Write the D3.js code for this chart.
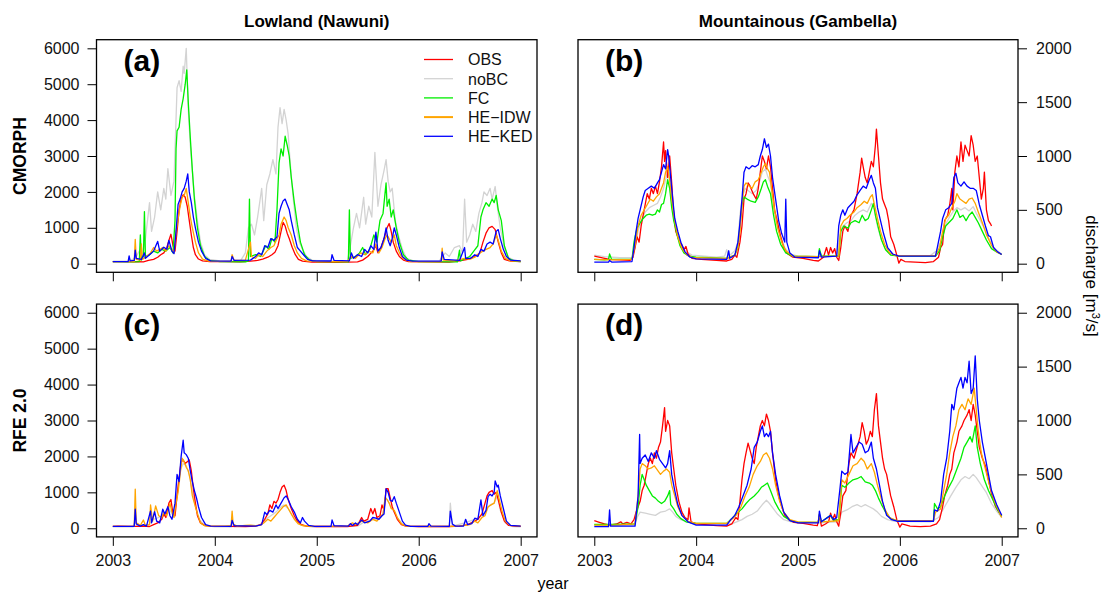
<!DOCTYPE html>
<html>
<head>
<meta charset="utf-8">
<script src="https://cdn.jsdelivr.net/npm/d3@7"></script>
<style>
  body { margin: 0; background: #fff; }
  text { font-family: "Liberation Sans", Arial, sans-serif; }
</style>
</head>
<body>
<svg id="chart" width="1107" height="594"></svg>
<script>
// tick labels
const years = [2003, 2004, 2005, 2006, 2007];
const lowTicks = [0, 1000, 2000, 3000, 4000, 5000, 6000];
const mountTicks = [0, 500, 1000, 1500, 2000];
const seriesNames = ['OBS', 'noBC', 'FC', 'HE\u2212IDW', 'HE\u2212KED'];
const colTitles = ['Lowland (Nawuni)', 'Mountainous (Gambella)'];
const rowTitles = ['CMORPH', 'RFE 2.0'];

// (a) CMORPH lowland  [year, discharge]
const aOBS = [[2003.00,60],[2003.10,55],[2003.20,50],[2003.25,60],[2003.30,50],[2003.35,90],[2003.40,120],[2003.44,180],[2003.47,250],[2003.50,300],[2003.53,450],[2003.55,650],[2003.57,820],[2003.59,500],[2003.61,350],[2003.63,900],[2003.65,1500],[2003.67,1800],[2003.69,1920],[2003.71,1850],[2003.73,1600],[2003.75,1200],[2003.77,800],[2003.79,450],[2003.81,250],[2003.84,130],[2003.88,80],[2003.95,60],[2004.10,55],[2004.25,50],[2004.35,70],[2004.42,90],[2004.47,130],[2004.52,180],[2004.56,250],[2004.59,320],[2004.62,500],[2004.65,900],[2004.67,1150],[2004.69,1050],[2004.71,850],[2004.73,700],[2004.76,450],[2004.79,250],[2004.82,120],[2004.86,70],[2004.95,45],[2005.20,40],[2005.40,50],[2005.45,100],[2005.50,200],[2005.55,350],[2005.58,500],[2005.60,300],[2005.63,450],[2005.66,700],[2005.69,1000],[2005.71,1120],[2005.73,900],[2005.75,600],[2005.78,350],[2005.81,200],[2005.85,100],[2005.90,60],[2006.10,50],[2006.30,45],[2006.40,80],[2006.48,120],[2006.55,200],[2006.60,300],[2006.63,600],[2006.66,850],[2006.69,1000],[2006.72,1040],[2006.75,950],[2006.78,600],[2006.81,300],[2006.84,120],[2006.90,70],[2007.00,60]];
const aNoBC = [[2003.00,70],[2003.15,70],[2003.22,150],[2003.26,350],[2003.29,250],[2003.32,700],[2003.36,1700],[2003.38,900],[2003.41,1300],[2003.44,2000],[2003.47,1500],[2003.50,2100],[2003.52,1800],[2003.54,2650],[2003.57,1900],[2003.60,2300],[2003.63,4900],[2003.65,5100],[2003.67,4800],[2003.69,5500],[2003.70,5300],[2003.72,6000],[2003.74,4300],[2003.76,3300],[2003.78,2600],[2003.80,1900],[2003.83,1200],[2003.86,600],[2003.90,250],[2003.95,120],[2004.05,80],[2004.25,70],[2004.30,300],[2004.33,1000],[2004.36,1100],[2004.39,800],[2004.42,1300],[2004.46,2100],[2004.48,1200],[2004.51,2200],[2004.54,2500],[2004.57,2900],[2004.60,2500],[2004.62,3800],[2004.64,4350],[2004.66,3900],[2004.68,4300],[2004.70,4000],[2004.72,3600],[2004.74,2800],[2004.77,1800],[2004.80,1000],[2004.83,600],[2004.86,400],[2004.90,200],[2004.96,90],[2005.20,70],[2005.30,70],[2005.33,500],[2005.36,1000],[2005.39,1400],[2005.42,1000],[2005.46,1850],[2005.48,1100],[2005.51,1600],[2005.54,1300],[2005.57,3100],[2005.60,1600],[2005.63,2200],[2005.66,2600],[2005.68,2900],[2005.70,2300],[2005.72,2000],[2005.74,2100],[2005.77,1200],[2005.80,800],[2005.84,400],[2005.88,150],[2005.95,80],[2006.20,70],[2006.26,300],[2006.30,200],[2006.35,450],[2006.40,500],[2006.43,300],[2006.45,1800],[2006.47,600],[2006.50,800],[2006.53,1100],[2006.56,900],[2006.59,1400],[2006.62,1700],[2006.64,2000],[2006.67,1900],[2006.70,2100],[2006.72,1800],[2006.75,2150],[2006.77,1600],[2006.80,1000],[2006.84,450],[2006.88,180],[2006.94,90],[2007.00,80]];
const aFC = [[2003.00,55],[2003.20,50],[2003.26,60],[2003.27,800],[2003.28,100],[2003.30,200],[2003.31,1450],[2003.32,200],[2003.36,250],[2003.40,350],[2003.44,300],[2003.48,400],[2003.52,350],[2003.56,450],[2003.59,300],[2003.61,1200],[2003.62,3200],[2003.63,3700],[2003.65,3800],[2003.67,4300],[2003.69,4600],[2003.71,5000],[2003.725,5400],[2003.74,4500],[2003.76,3500],[2003.78,2600],[2003.80,1800],[2003.83,1000],[2003.86,500],[2003.90,200],[2003.95,90],[2004.05,60],[2004.30,50],[2004.33,80],[2004.34,1800],[2004.35,200],[2004.40,250],[2004.45,200],[2004.50,500],[2004.53,400],[2004.56,700],[2004.59,600],[2004.61,1500],[2004.63,2800],[2004.65,3200],[2004.67,3000],[2004.69,3550],[2004.71,3300],[2004.73,3000],[2004.75,2400],[2004.78,1700],[2004.81,1100],[2004.84,600],[2004.88,250],[2004.93,100],[2005.00,60],[2005.31,50],[2005.32,1500],[2005.33,150],[2005.38,200],[2005.42,300],[2005.45,450],[2005.48,250],[2005.52,400],[2005.56,800],[2005.59,600],[2005.62,1200],[2005.65,1400],[2005.68,2250],[2005.69,1600],[2005.71,1800],[2005.73,1300],[2005.75,1500],[2005.78,1000],[2005.81,600],[2005.85,250],[2005.90,100],[2006.00,60],[2006.38,50],[2006.40,380],[2006.41,80],[2006.46,150],[2006.50,200],[2006.54,350],[2006.58,500],[2006.61,1300],[2006.63,1500],[2006.66,1700],[2006.69,1600],[2006.72,1800],[2006.74,1700],[2006.76,1900],[2006.78,1500],[2006.81,1200],[2006.84,500],[2006.88,150],[2006.94,70],[2007.00,60]];
const aIDW = [[2003.00,60],[2003.21,60],[2003.22,680],[2003.23,120],[2003.27,100],[2003.28,550],[2003.29,120],[2003.33,200],[2003.37,300],[2003.40,450],[2003.43,350],[2003.46,400],[2003.49,450],[2003.52,350],[2003.55,500],[2003.58,400],[2003.60,300],[2003.62,900],[2003.64,1250],[2003.66,1600],[2003.68,1850],[2003.70,1900],[2003.72,2100],[2003.74,1700],[2003.76,1300],[2003.78,1000],[2003.81,600],[2003.84,300],[2003.88,130],[2003.94,70],[2004.10,65],[2004.16,70],[2004.17,250],[2004.19,90],[2004.30,100],[2004.35,600],[2004.36,200],[2004.40,150],[2004.43,250],[2004.47,200],[2004.51,350],[2004.55,450],[2004.58,500],[2004.61,700],[2004.63,800],[2004.65,1100],[2004.68,1300],[2004.70,1200],[2004.72,1000],[2004.75,800],[2004.78,500],[2004.81,300],[2004.85,150],[2004.90,80],[2005.00,60],[2005.30,55],[2005.34,200],[2005.38,150],[2005.43,300],[2005.47,250],[2005.51,350],[2005.55,300],[2005.58,550],[2005.61,300],[2005.64,450],[2005.67,700],[2005.69,800],[2005.71,700],[2005.73,600],[2005.76,800],[2005.78,500],[2005.82,250],[2005.86,120],[2005.92,60],[2006.22,55],[2006.23,430],[2006.24,100],[2006.35,80],[2006.45,150],[2006.50,120],[2006.55,180],[2006.60,300],[2006.63,350],[2006.66,400],[2006.70,450],[2006.73,550],[2006.76,800],[2006.78,650],[2006.81,350],[2006.85,150],[2006.90,80],[2007.00,70]];
const aKED = [[2003.00,60],[2003.15,60],[2003.16,220],[2003.17,80],[2003.21,90],[2003.22,380],[2003.23,150],[2003.28,120],[2003.31,300],[2003.32,150],[2003.36,250],[2003.40,350],[2003.44,620],[2003.46,350],[2003.50,460],[2003.53,400],[2003.55,650],[2003.58,350],[2003.60,280],[2003.62,900],[2003.64,1650],[2003.66,1800],[2003.68,2000],[2003.70,2100],[2003.72,2300],[2003.735,2500],[2003.75,2000],[2003.77,1700],[2003.79,1300],[2003.81,1000],[2003.84,600],[2003.87,350],[2003.91,150],[2003.96,80],[2004.10,70],[2004.16,75],[2004.17,200],[2004.19,90],[2004.35,100],[2004.40,200],[2004.43,300],[2004.46,250],[2004.49,500],[2004.52,450],[2004.55,700],[2004.58,650],[2004.61,750],[2004.63,1400],[2004.65,1600],[2004.67,1750],[2004.69,1800],[2004.71,1650],[2004.73,1500],[2004.75,1200],[2004.78,800],[2004.81,450],[2004.84,350],[2004.87,250],[2004.91,120],[2004.96,80],[2005.14,75],[2005.15,250],[2005.17,90],[2005.32,80],[2005.34,300],[2005.36,150],[2005.40,250],[2005.44,200],[2005.47,400],[2005.50,300],[2005.53,500],[2005.56,400],[2005.58,880],[2005.60,350],[2005.63,450],[2005.66,700],[2005.68,1000],[2005.70,650],[2005.72,500],[2005.74,700],[2005.76,1000],[2005.78,800],[2005.81,450],[2005.84,200],[2005.88,100],[2005.94,70],[2006.22,70],[2006.23,330],[2006.25,120],[2006.40,90],[2006.45,450],[2006.46,150],[2006.51,150],[2006.55,250],[2006.58,200],[2006.61,400],[2006.64,350],[2006.67,550],[2006.70,600],[2006.73,550],[2006.76,900],[2006.78,950],[2006.80,700],[2006.83,400],[2006.86,200],[2006.90,100],[2007.00,80]];

// (b) CMORPH mountainous
const bOBS = [[2003.00,70],[2003.08,55],[2003.15,40],[2003.25,35],[2003.35,30],[2003.38,60],[2003.40,150],[2003.42,250],[2003.44,200],[2003.46,350],[2003.48,450],[2003.50,550],[2003.52,650],[2003.54,600],[2003.56,700],[2003.58,650],[2003.60,720],[2003.62,650],[2003.64,760],[2003.66,900],[2003.68,1130],[2003.69,950],[2003.70,1050],[2003.72,800],[2003.74,1000],[2003.76,750],[2003.78,450],[2003.80,300],[2003.83,220],[2003.86,170],[2003.88,130],[2003.90,160],[2003.92,90],[2003.96,50],[2004.05,40],[2004.20,30],[2004.30,25],[2004.35,40],[2004.38,80],[2004.40,60],[2004.43,200],[2004.45,350],[2004.47,600],[2004.49,650],[2004.51,750],[2004.53,720],[2004.56,650],[2004.59,600],[2004.61,700],[2004.63,850],[2004.65,1000],[2004.67,950],[2004.69,880],[2004.71,1000],[2004.73,900],[2004.75,700],[2004.77,500],[2004.80,380],[2004.83,250],[2004.86,150],[2004.90,90],[2004.95,60],[2005.05,50],[2005.15,30],[2005.20,25],[2005.25,60],[2005.28,150],[2005.30,80],[2005.32,150],[2005.34,100],[2005.36,140],[2005.38,60],[2005.40,30],[2005.42,150],[2005.44,300],[2005.46,350],[2005.49,300],[2005.52,450],[2005.55,500],[2005.58,650],[2005.61,850],[2005.625,980],[2005.64,900],[2005.66,800],[2005.68,750],[2005.70,850],[2005.72,950],[2005.74,900],[2005.76,1100],[2005.77,1250],[2005.79,1000],[2005.81,750],[2005.83,600],[2005.85,550],[2005.87,500],[2005.89,400],[2005.91,250],[2005.94,180],[2005.97,80],[2005.99,5],[2006.01,40],[2006.05,20],[2006.15,15],[2006.25,10],[2006.33,20],[2006.38,60],[2006.40,150],[2006.42,180],[2006.44,400],[2006.47,450],[2006.49,550],[2006.51,700],[2006.52,500],[2006.54,850],[2006.56,1000],[2006.58,900],[2006.60,1130],[2006.62,950],[2006.64,1100],[2006.66,1050],[2006.68,1000],[2006.70,1190],[2006.72,1100],[2006.74,950],[2006.76,1000],[2006.78,800],[2006.80,600],[2006.82,700],[2006.83,850],[2006.85,500],[2006.87,400],[2006.89,370],[2006.90,350]];
const bNoBC = [[2003.00,80],[2003.10,65],[2003.25,55],[2003.37,55],[2003.40,150],[2003.43,300],[2003.46,400],[2003.50,480],[2003.54,520],[2003.58,540],[2003.62,560],[2003.65,620],[2003.68,700],[2003.71,820],[2003.73,850],[2003.75,650],[2003.78,450],[2003.81,300],[2003.85,180],[2003.90,110],[2003.96,80],[2004.20,60],[2004.28,70],[2004.30,130],[2004.32,70],[2004.38,120],[2004.41,200],[2004.43,450],[2004.45,600],[2004.48,700],[2004.51,680],[2004.55,650],[2004.59,680],[2004.62,750],[2004.65,850],[2004.68,880],[2004.70,820],[2004.73,750],[2004.76,520],[2004.79,380],[2004.83,250],[2004.87,150],[2004.92,90],[2005.00,70],[2005.20,65],[2005.22,100],[2005.24,70],[2005.38,70],[2005.41,250],[2005.44,350],[2005.48,380],[2005.52,400],[2005.56,450],[2005.60,480],[2005.64,500],[2005.68,480],[2005.72,560],[2005.75,500],[2005.78,350],[2005.81,250],[2005.85,150],[2005.90,90],[2005.96,75],[2006.30,75],[2006.36,120],[2006.40,200],[2006.44,350],[2006.48,420],[2006.52,480],[2006.56,520],[2006.60,500],[2006.64,520],[2006.68,490],[2006.72,530],[2006.75,470],[2006.79,400],[2006.83,330],[2006.88,220],[2006.93,140],[2007.00,90]];
const bFC = [[2003.00,40],[2003.10,35],[2003.14,40],[2003.15,90],[2003.17,40],[2003.37,40],[2003.39,200],[2003.40,250],[2003.42,330],[2003.45,380],[2003.48,420],[2003.51,450],[2003.54,460],[2003.57,450],[2003.60,460],[2003.62,500],[2003.64,480],[2003.66,550],[2003.68,560],[2003.70,650],[2003.72,780],[2003.74,700],[2003.76,520],[2003.78,400],[2003.81,280],[2003.84,170],[2003.88,100],[2003.93,70],[2004.00,60],[2004.30,50],[2004.38,80],[2004.41,150],[2004.43,350],[2004.45,550],[2004.47,620],[2004.50,600],[2004.54,580],[2004.58,570],[2004.61,620],[2004.64,700],[2004.66,760],[2004.68,780],[2004.70,720],[2004.73,650],[2004.76,450],[2004.79,300],[2004.83,180],[2004.88,100],[2004.95,70],[2005.20,65],[2005.21,140],[2005.23,70],[2005.40,70],[2005.42,300],[2005.45,350],[2005.49,330],[2005.52,380],[2005.56,400],[2005.60,380],[2005.63,450],[2005.66,400],[2005.69,420],[2005.72,500],[2005.74,560],[2005.76,450],[2005.79,330],[2005.82,220],[2005.86,130],[2005.91,80],[2006.00,70],[2006.35,70],[2006.39,120],[2006.42,250],[2006.45,350],[2006.48,380],[2006.52,420],[2006.56,500],[2006.59,430],[2006.62,450],[2006.65,400],[2006.68,450],[2006.71,480],[2006.74,430],[2006.77,380],[2006.81,300],[2006.85,220],[2006.90,140],[2006.95,110],[2007.00,85]];
const bIDW = [[2003.00,40],[2003.15,35],[2003.37,40],[2003.40,170],[2003.43,350],[2003.46,450],[2003.49,500],[2003.52,550],[2003.55,600],[2003.58,580],[2003.61,620],[2003.64,650],[2003.66,700],[2003.68,750],[2003.70,850],[2003.72,900],[2003.74,780],[2003.76,600],[2003.79,400],[2003.82,250],[2003.86,140],[2003.91,80],[2003.97,55],[2004.30,50],[2004.38,80],[2004.41,150],[2004.43,300],[2004.45,550],[2004.47,720],[2004.49,750],[2004.52,720],[2004.55,700],[2004.58,760],[2004.61,780],[2004.64,850],[2004.66,900],[2004.68,930],[2004.70,880],[2004.72,850],[2004.74,700],[2004.77,500],[2004.80,330],[2004.84,200],[2004.88,120],[2004.95,70],[2005.20,65],[2005.40,70],[2005.42,350],[2005.45,400],[2005.48,420],[2005.51,450],[2005.55,480],[2005.58,520],[2005.62,550],[2005.65,580],[2005.68,560],[2005.71,620],[2005.73,640],[2005.75,550],[2005.78,420],[2005.81,300],[2005.85,180],[2005.90,100],[2005.96,75],[2006.35,75],[2006.39,150],[2006.42,300],[2006.45,420],[2006.48,450],[2006.51,520],[2006.54,580],[2006.56,650],[2006.59,600],[2006.62,580],[2006.65,560],[2006.68,600],[2006.71,610],[2006.74,560],[2006.77,480],[2006.81,380],[2006.85,270],[2006.90,170],[2006.95,110],[2007.00,85]];
const bKED = [[2003.00,15],[2003.14,15],[2003.15,30],[2003.17,15],[2003.37,20],[2003.39,150],[2003.41,300],[2003.43,420],[2003.45,500],[2003.48,620],[2003.50,680],[2003.53,700],[2003.56,720],[2003.59,700],[2003.62,750],[2003.64,780],[2003.66,850],[2003.68,920],[2003.70,880],[2003.72,1060],[2003.73,1000],[2003.75,800],[2003.77,600],[2003.79,420],[2003.82,300],[2003.85,200],[2003.89,110],[2003.94,60],[2004.00,45],[2004.30,40],[2004.32,120],[2004.33,50],[2004.38,80],[2004.41,200],[2004.43,380],[2004.45,600],[2004.47,850],[2004.49,900],[2004.52,880],[2004.55,910],[2004.58,900],[2004.61,920],[2004.63,1000],[2004.65,1060],[2004.67,1160],[2004.69,1080],[2004.71,1110],[2004.73,1000],[2004.75,800],[2004.78,600],[2004.81,400],[2004.84,280],[2004.87,200],[2004.88,600],[2004.89,200],[2004.92,100],[2004.97,60],[2005.20,55],[2005.21,120],[2005.23,60],[2005.38,70],[2005.40,350],[2005.42,450],[2005.44,500],[2005.46,450],[2005.49,520],[2005.52,550],[2005.55,580],[2005.58,640],[2005.61,680],[2005.64,720],[2005.67,700],[2005.70,780],[2005.72,820],[2005.74,750],[2005.76,700],[2005.78,520],[2005.81,400],[2005.84,280],[2005.88,150],[2005.93,90],[2005.99,70],[2006.35,70],[2006.37,160],[2006.40,300],[2006.42,420],[2006.45,500],[2006.48,520],[2006.51,560],[2006.53,800],[2006.55,840],[2006.57,750],[2006.60,720],[2006.63,760],[2006.66,720],[2006.69,700],[2006.72,700],[2006.75,680],[2006.78,550],[2006.81,450],[2006.84,350],[2006.87,260],[2006.89,250],[2006.92,150],[2006.96,110],[2007.00,85]];

// (c) RFE 2.0 lowland (no FC line)
const cOBS = [[2003.00,55],[2003.05,60],[2003.15,55],[2003.22,55],[2003.30,60],[2003.36,50],[2003.40,100],[2003.44,150],[2003.48,250],[2003.50,400],[2003.52,300],[2003.55,700],[2003.57,800],[2003.59,400],[2003.61,350],[2003.63,900],[2003.65,1400],[2003.67,1850],[2003.69,1900],[2003.71,1800],[2003.73,1850],[2003.75,1900],[2003.77,1600],[2003.79,1100],[2003.81,700],[2003.83,350],[2003.86,150],[2003.90,80],[2003.95,60],[2004.30,50],[2004.40,60],[2004.45,100],[2004.49,250],[2004.52,400],[2004.54,650],[2004.56,550],[2004.58,750],[2004.60,700],[2004.62,800],[2004.64,1000],[2004.66,1150],[2004.68,1200],[2004.70,1050],[2004.72,800],[2004.75,550],[2004.78,350],[2004.81,200],[2004.85,100],[2004.90,60],[2005.00,50],[2005.30,50],[2005.40,80],[2005.44,300],[2005.46,200],[2005.50,250],[2005.53,550],[2005.55,400],[2005.57,550],[2005.59,300],[2005.62,350],[2005.64,650],[2005.66,500],[2005.68,1100],[2005.70,1100],[2005.72,850],[2005.74,600],[2005.76,450],[2005.79,250],[2005.83,100],[2005.88,60],[2006.00,50],[2006.30,50],[2006.40,60],[2006.48,100],[2006.55,200],[2006.58,250],[2006.62,400],[2006.65,700],[2006.67,900],[2006.69,1000],[2006.72,1050],[2006.74,950],[2006.76,1000],[2006.78,800],[2006.81,450],[2006.84,200],[2006.88,80],[2006.95,60],[2007.00,55]];
const cNoBC = [[2003.00,40],[2003.20,40],[2003.22,200],[2003.24,60],[2003.35,100],[2003.40,250],[2003.45,300],[2003.50,350],[2003.55,550],[2003.60,300],[2003.63,1000],[2003.66,1600],[2003.69,1800],[2003.72,1750],[2003.75,1500],[2003.78,1000],[2003.81,600],[2003.85,250],[2003.90,80],[2004.00,40],[2004.16,40],[2004.17,200],[2004.19,50],[2004.45,80],[2004.50,250],[2004.55,350],[2004.60,450],[2004.65,600],[2004.68,650],[2004.72,550],[2004.76,350],[2004.80,200],[2004.85,80],[2004.95,40],[2005.40,60],[2005.45,150],[2005.55,250],[2005.60,250],[2005.65,400],[2005.68,850],[2005.71,700],[2005.75,500],[2005.80,250],[2005.86,60],[2006.00,40],[2006.30,40],[2006.31,700],[2006.33,60],[2006.45,150],[2006.55,250],[2006.62,350],[2006.66,500],[2006.70,650],[2006.74,700],[2006.77,900],[2006.80,500],[2006.85,150],[2006.92,50],[2007.00,40]];
const cIDW = [[2003.00,55],[2003.21,55],[2003.22,1090],[2003.23,150],[2003.27,80],[2003.30,230],[2003.32,80],[2003.36,100],[2003.37,650],[2003.39,200],[2003.42,620],[2003.45,350],[2003.48,300],[2003.50,450],[2003.53,350],[2003.56,700],[2003.58,450],[2003.60,300],[2003.62,700],[2003.64,1000],[2003.66,1500],[2003.68,1950],[2003.70,1850],[2003.72,1700],[2003.74,1600],[2003.76,1350],[2003.78,900],[2003.80,700],[2003.83,400],[2003.86,150],[2003.90,70],[2003.95,60],[2004.10,60],[2004.16,70],[2004.17,480],[2004.18,120],[2004.22,60],[2004.30,80],[2004.35,90],[2004.40,70],[2004.45,90],[2004.48,150],[2004.52,250],[2004.55,200],[2004.58,300],[2004.61,400],[2004.64,500],[2004.67,600],[2004.70,650],[2004.72,550],[2004.75,400],[2004.78,250],[2004.82,120],[2004.87,70],[2004.95,55],[2005.30,60],[2005.35,150],[2005.38,100],[2005.44,200],[2005.50,150],[2005.55,250],[2005.59,200],[2005.62,300],[2005.65,400],[2005.67,850],[2005.69,800],[2005.71,700],[2005.73,550],[2005.76,500],[2005.79,300],[2005.83,120],[2005.88,60],[2006.00,55],[2006.30,55],[2006.40,60],[2006.50,100],[2006.55,200],[2006.58,150],[2006.62,300],[2006.65,350],[2006.68,600],[2006.71,650],[2006.74,700],[2006.77,1050],[2006.79,800],[2006.82,450],[2006.85,200],[2006.90,80],[2007.00,60]];
const cKED = [[2003.00,55],[2003.21,55],[2003.22,530],[2003.23,120],[2003.27,60],[2003.30,100],[2003.33,60],[2003.37,480],[2003.38,150],[2003.41,460],[2003.43,200],[2003.46,150],[2003.49,530],[2003.51,400],[2003.54,600],[2003.56,350],[2003.58,250],[2003.61,700],[2003.63,1500],[2003.65,1300],[2003.67,2000],[2003.69,2450],[2003.70,2100],[2003.72,2050],[2003.74,1950],[2003.76,1600],[2003.78,1300],[2003.80,1050],[2003.82,850],[2003.84,600],[2003.87,300],[2003.91,100],[2003.96,60],[2004.16,55],[2004.17,220],[2004.19,70],[2004.40,60],[2004.46,100],[2004.49,450],[2004.51,380],[2004.54,500],[2004.57,450],[2004.60,650],[2004.62,550],[2004.65,700],[2004.68,850],[2004.70,900],[2004.72,800],[2004.75,600],[2004.78,450],[2004.81,250],[2004.84,150],[2004.86,300],[2004.88,200],[2004.92,80],[2004.98,55],[2005.14,55],[2005.15,230],[2005.17,70],[2005.31,60],[2005.33,130],[2005.35,80],[2005.38,150],[2005.40,100],[2005.44,230],[2005.47,150],[2005.52,200],[2005.55,300],[2005.58,280],[2005.61,250],[2005.64,350],[2005.66,400],[2005.68,1100],[2005.70,1000],[2005.72,780],[2005.74,750],[2005.76,880],[2005.78,700],[2005.81,450],[2005.84,200],[2005.87,90],[2005.92,55],[2006.09,55],[2006.10,130],[2006.12,60],[2006.30,55],[2006.31,480],[2006.33,120],[2006.36,60],[2006.44,60],[2006.46,250],[2006.48,100],[2006.52,130],[2006.55,280],[2006.58,250],[2006.61,790],[2006.63,350],[2006.66,500],[2006.68,880],[2006.70,950],[2006.72,900],[2006.74,1000],[2006.75,1320],[2006.77,1150],[2006.78,1200],[2006.80,900],[2006.83,550],[2006.86,200],[2006.90,80],[2007.00,60]];

// (d) RFE 2.0 mountainous
const dOBS = [[2003.00,70],[2003.05,55],[2003.10,40],[2003.15,30],[2003.22,40],[2003.26,60],[2003.28,40],[2003.32,55],[2003.36,40],[2003.39,80],[2003.41,150],[2003.43,200],[2003.45,250],[2003.47,350],[2003.49,400],[2003.51,500],[2003.53,600],[2003.55,650],[2003.57,600],[2003.59,700],[2003.61,650],[2003.63,750],[2003.65,800],[2003.67,950],[2003.69,1120],[2003.70,900],[2003.72,1000],[2003.74,950],[2003.76,700],[2003.78,550],[2003.80,400],[2003.83,250],[2003.86,150],[2003.89,100],[2003.92,80],[2003.93,190],[2003.95,60],[2004.00,40],[2004.20,25],[2004.30,20],[2004.35,40],[2004.39,100],[2004.41,80],[2004.43,250],[2004.45,450],[2004.47,600],[2004.49,700],[2004.51,790],[2004.53,720],[2004.55,650],[2004.57,600],[2004.59,750],[2004.61,850],[2004.63,950],[2004.65,1000],[2004.67,950],[2004.69,1060],[2004.71,1000],[2004.73,900],[2004.75,700],[2004.78,450],[2004.81,300],[2004.84,200],[2004.87,120],[2004.91,80],[2004.96,55],[2005.05,45],[2005.15,30],[2005.19,25],[2005.21,120],[2005.23,20],[2005.27,40],[2005.30,60],[2005.32,140],[2005.34,80],[2005.36,130],[2005.38,60],[2005.40,20],[2005.42,150],[2005.44,300],[2005.47,350],[2005.50,600],[2005.52,700],[2005.55,650],[2005.58,750],[2005.61,850],[2005.63,980],[2005.65,900],[2005.67,780],[2005.69,820],[2005.71,900],[2005.73,850],[2005.75,1100],[2005.77,1250],[2005.79,950],[2005.81,800],[2005.83,650],[2005.85,550],[2005.87,500],[2005.89,400],[2005.91,300],[2005.94,200],[2005.97,80],[2006.00,10],[2006.02,40],[2006.10,20],[2006.20,15],[2006.30,20],[2006.36,40],[2006.39,80],[2006.42,200],[2006.44,300],[2006.47,400],[2006.49,500],[2006.51,550],[2006.53,700],[2006.56,800],[2006.58,900],[2006.61,950],[2006.63,1000],[2006.66,1050],[2006.68,1100],[2006.70,1000],[2006.72,1150],[2006.74,1050],[2006.76,900],[2006.78,750],[2006.81,650],[2006.84,580],[2006.87,450],[2006.90,320],[2006.94,200],[2007.00,110]];
const dNoBC = [[2003.00,30],[2003.20,25],[2003.40,30],[2003.42,100],[2003.45,150],[2003.50,140],[2003.55,130],[2003.60,120],[2003.65,150],[2003.70,160],[2003.74,180],[2003.77,150],[2003.80,110],[2003.85,80],[2003.92,55],[2004.00,40],[2004.35,40],[2004.45,80],[2004.50,110],[2004.55,130],[2004.60,160],[2004.65,220],[2004.69,260],[2004.72,230],[2004.76,180],[2004.80,130],[2004.86,80],[2004.95,55],[2005.20,50],[2005.40,60],[2005.43,150],[2005.48,170],[2005.53,200],[2005.58,220],[2005.62,200],[2005.66,220],[2005.70,200],[2005.74,180],[2005.78,150],[2005.82,110],[2005.88,80],[2005.95,65],[2006.30,60],[2006.38,100],[2006.44,200],[2006.50,300],[2006.55,380],[2006.60,450],[2006.64,480],[2006.68,460],[2006.72,500],[2006.75,470],[2006.80,400],[2006.85,330],[2006.90,230],[2006.95,160],[2007.00,100]];
const dFC = [[2003.00,35],[2003.20,35],[2003.40,40],[2003.43,200],[2003.45,400],[2003.47,500],[2003.49,450],[2003.51,400],[2003.54,350],[2003.57,300],[2003.60,280],[2003.63,250],[2003.66,230],[2003.69,250],[2003.72,300],[2003.74,350],[2003.75,220],[2003.78,180],[2003.81,130],[2003.85,90],[2003.90,60],[2004.00,45],[2004.30,45],[2004.35,90],[2004.40,140],[2004.45,180],[2004.49,230],[2004.53,270],[2004.57,300],[2004.61,340],[2004.64,380],[2004.67,400],[2004.70,420],[2004.73,350],[2004.77,250],[2004.81,180],[2004.86,110],[2004.93,70],[2005.00,55],[2005.20,55],[2005.21,130],[2005.23,60],[2005.32,120],[2005.35,70],[2005.40,80],[2005.43,400],[2005.46,380],[2005.50,420],[2005.54,450],[2005.58,460],[2005.62,480],[2005.66,430],[2005.70,420],[2005.73,400],[2005.76,350],[2005.79,280],[2005.82,220],[2005.86,150],[2005.91,90],[2005.97,70],[2006.33,70],[2006.34,230],[2006.37,180],[2006.40,200],[2006.44,300],[2006.48,380],[2006.52,450],[2006.56,550],[2006.60,650],[2006.63,750],[2006.66,800],[2006.69,850],[2006.71,800],[2006.74,950],[2006.76,750],[2006.79,600],[2006.83,450],[2006.87,350],[2006.92,250],[2006.96,170],[2007.00,110]];
const dIDW = [[2003.00,30],[2003.20,30],[2003.40,40],[2003.43,300],[2003.45,550],[2003.47,600],[2003.50,580],[2003.53,550],[2003.56,560],[2003.59,580],[2003.62,540],[2003.65,500],[2003.68,530],[2003.71,550],[2003.74,520],[2003.76,400],[2003.79,300],[2003.82,200],[2003.86,120],[2003.92,65],[2004.00,45],[2004.30,45],[2004.36,90],[2004.40,130],[2004.44,200],[2004.48,300],[2004.52,380],[2004.56,500],[2004.60,580],[2004.63,620],[2004.66,680],[2004.69,700],[2004.72,650],[2004.75,550],[2004.78,400],[2004.82,250],[2004.86,150],[2004.92,80],[2005.00,60],[2005.20,55],[2005.21,130],[2005.23,60],[2005.40,70],[2005.43,450],[2005.46,420],[2005.50,500],[2005.54,580],[2005.58,600],[2005.62,650],[2005.65,620],[2005.68,550],[2005.72,600],[2005.75,520],[2005.78,400],[2005.81,300],[2005.85,180],[2005.90,100],[2005.97,70],[2006.33,70],[2006.35,150],[2006.40,180],[2006.43,350],[2006.46,500],[2006.49,700],[2006.52,850],[2006.55,950],[2006.58,1100],[2006.61,1150],[2006.64,1100],[2006.67,1200],[2006.70,1150],[2006.73,1300],[2006.75,1100],[2006.77,900],[2006.80,700],[2006.84,550],[2006.88,400],[2006.93,250],[2007.00,100]];
const dKED = [[2003.00,15],[2003.14,15],[2003.15,170],[2003.16,20],[2003.40,20],[2003.43,300],[2003.445,870],[2003.45,600],[2003.47,650],[2003.50,680],[2003.53,620],[2003.56,700],[2003.59,650],[2003.61,720],[2003.64,640],[2003.67,600],[2003.70,560],[2003.72,600],[2003.74,720],[2003.76,500],[2003.79,350],[2003.82,220],[2003.86,120],[2003.92,60],[2004.00,30],[2004.30,30],[2004.34,80],[2004.38,120],[2004.42,200],[2004.46,300],[2004.50,400],[2004.54,550],[2004.57,750],[2004.60,800],[2004.63,900],[2004.65,950],[2004.67,850],[2004.69,880],[2004.71,850],[2004.73,900],[2004.75,700],[2004.78,500],[2004.82,300],[2004.86,150],[2004.92,70],[2005.00,50],[2005.20,50],[2005.21,160],[2005.23,60],[2005.32,120],[2005.35,80],[2005.38,100],[2005.41,350],[2005.43,530],[2005.46,500],[2005.49,520],[2005.52,870],[2005.54,700],[2005.57,750],[2005.60,800],[2005.63,780],[2005.66,700],[2005.69,720],[2005.72,800],[2005.74,650],[2005.77,550],[2005.80,400],[2005.83,250],[2005.87,120],[2005.92,80],[2005.98,65],[2006.33,65],[2006.34,170],[2006.37,160],[2006.40,250],[2006.43,500],[2006.46,650],[2006.49,900],[2006.51,1150],[2006.53,1100],[2006.56,1300],[2006.58,1350],[2006.60,1400],[2006.62,1300],[2006.64,1400],[2006.66,1350],[2006.68,1550],[2006.70,1250],[2006.72,1300],[2006.74,1600],[2006.76,1200],[2006.78,1000],[2006.81,800],[2006.84,650],[2006.87,500],[2006.90,350],[2006.95,220],[2007.00,120]];

const colors = { OBS: '#ff0000', noBC: '#d3d3d3', FC: '#00ee00', IDW: '#ffa500', KED: '#0000ff' };
const legendColors = [colors.OBS, colors.noBC, colors.FC, colors.IDW, colors.KED];

// panels, series listed in drawing order (grey underneath)
const panels = [
  { id: '(a)', row: 0, col: 0, lines: [[aNoBC, colors.noBC], [aOBS, colors.OBS], [aFC, colors.FC], [aIDW, colors.IDW], [aKED, colors.KED]] },
  { id: '(b)', row: 0, col: 1, lines: [[bNoBC, colors.noBC], [bOBS, colors.OBS], [bFC, colors.FC], [bIDW, colors.IDW], [bKED, colors.KED]] },
  { id: '(c)', row: 1, col: 0, lines: [[cNoBC, colors.noBC], [cOBS, colors.OBS], [cIDW, colors.IDW], [cKED, colors.KED]] },
  { id: '(d)', row: 1, col: 1, lines: [[dNoBC, colors.noBC], [dOBS, colors.OBS], [dFC, colors.FC], [dIDW, colors.IDW], [dKED, colors.KED]] }
];

const svg = d3.select('#chart');
const colX = [[96.5, 537], [578, 1018]];
const rowY = [[272.3, 39.7], [536.9, 304.1]];
const fontFam = '"Liberation Sans", Arial, sans-serif';

panels.forEach(p => {
  const [x0, x1] = colX[p.col];
  const [yb, yt] = rowY[p.row];
  const x = d3.scaleLinear().domain([2002.84, 2007.16]).range([x0, x1]);
  const y = d3.scaleLinear()
    .domain(p.col === 0 ? [-240, 6240] : [-80, 2080])
    .range([yb, yt]);

  const g = svg.append('g');
  const line = d3.line().x(d => x(d[0])).y(d => y(d[1]));

  p.lines.forEach(([data, color]) => {
    g.append('path')
      .attr('d', line(data))
      .attr('fill', 'none')
      .attr('stroke', color)
      .attr('stroke-width', 1.3)
      .attr('stroke-linejoin', 'round');
  });

  g.append('rect')
    .attr('x', x0).attr('y', yt)
    .attr('width', x1 - x0).attr('height', yb - yt)
    .attr('fill', 'none').attr('stroke', '#000').attr('stroke-width', 1.3);

  const xAxis = d3.axisBottom(x).tickValues(years).tickSize(9).tickPadding(9)
    .tickFormat(p.row === 1 ? d3.format('d') : () => '');
  const gx = g.append('g').attr('transform', `translate(0,${yb})`).call(xAxis);

  const yAxis = p.col === 0
    ? d3.axisLeft(y).tickValues(lowTicks).tickSize(9).tickPadding(8).tickFormat(d3.format('d'))
    : d3.axisRight(y).tickValues(mountTicks).tickSize(9).tickPadding(9).tickFormat(d3.format('d'));
  const gy = g.append('g').attr('transform', `translate(${p.col === 0 ? x0 : x1},0)`).call(yAxis);

  [gx, gy].forEach(a => {
    a.select('.domain').remove();
    a.attr('font-size', 16).attr('font-family', fontFam);
    a.selectAll('line').attr('stroke', '#000');
    a.selectAll('text').attr('fill', '#111');
  });

  g.append('text')
    .attr('x', x0 + 27).attr('y', yt + 31)
    .attr('font-size', 30).attr('font-weight', 'bold')
    .text(p.id);
});

// column titles
colTitles.forEach((t, i) => {
  svg.append('text')
    .attr('x', (colX[i][0] + colX[i][1]) / 2).attr('y', 27)
    .attr('text-anchor', 'middle').attr('font-size', 17).attr('font-weight', 'bold')
    .text(t);
});

// row titles
rowTitles.forEach((t, i) => {
  const cy = (rowY[i][0] + rowY[i][1]) / 2;
  svg.append('text')
    .attr('transform', `translate(26,${cy}) rotate(-90)`)
    .attr('text-anchor', 'middle').attr('font-size', 17.5).attr('font-weight', 'bold')
    .text(t);
});

// legend in panel (a)
const legend = svg.append('g');
seriesNames.forEach((name, i) => {
  const ly = 59.5 + i * 19.2;
  legend.append('line')
    .attr('x1', 424).attr('x2', 453).attr('y1', ly).attr('y2', ly)
    .attr('stroke', legendColors[i]).attr('stroke-width', i === 3 ? 2 : 1.3);
  legend.append('text')
    .attr('x', 468).attr('y', ly + 5.8)
    .attr('font-size', 16).attr('fill', '#111')
    .text(name);
});

// x label
svg.append('text')
  .attr('x', 553).attr('y', 589)
  .attr('text-anchor', 'middle').attr('font-size', 16)
  .text('year');

// right axis label
const dl = svg.append('text')
  .attr('transform', 'translate(1086,276) rotate(90)')
  .attr('text-anchor', 'middle').attr('font-size', 17);
dl.append('tspan').text('discharge [m');
dl.append('tspan').attr('font-size', 11).attr('dy', -6).text('3');
dl.append('tspan').attr('dy', 6).text('/s]');
</script>
</body>
</html>
